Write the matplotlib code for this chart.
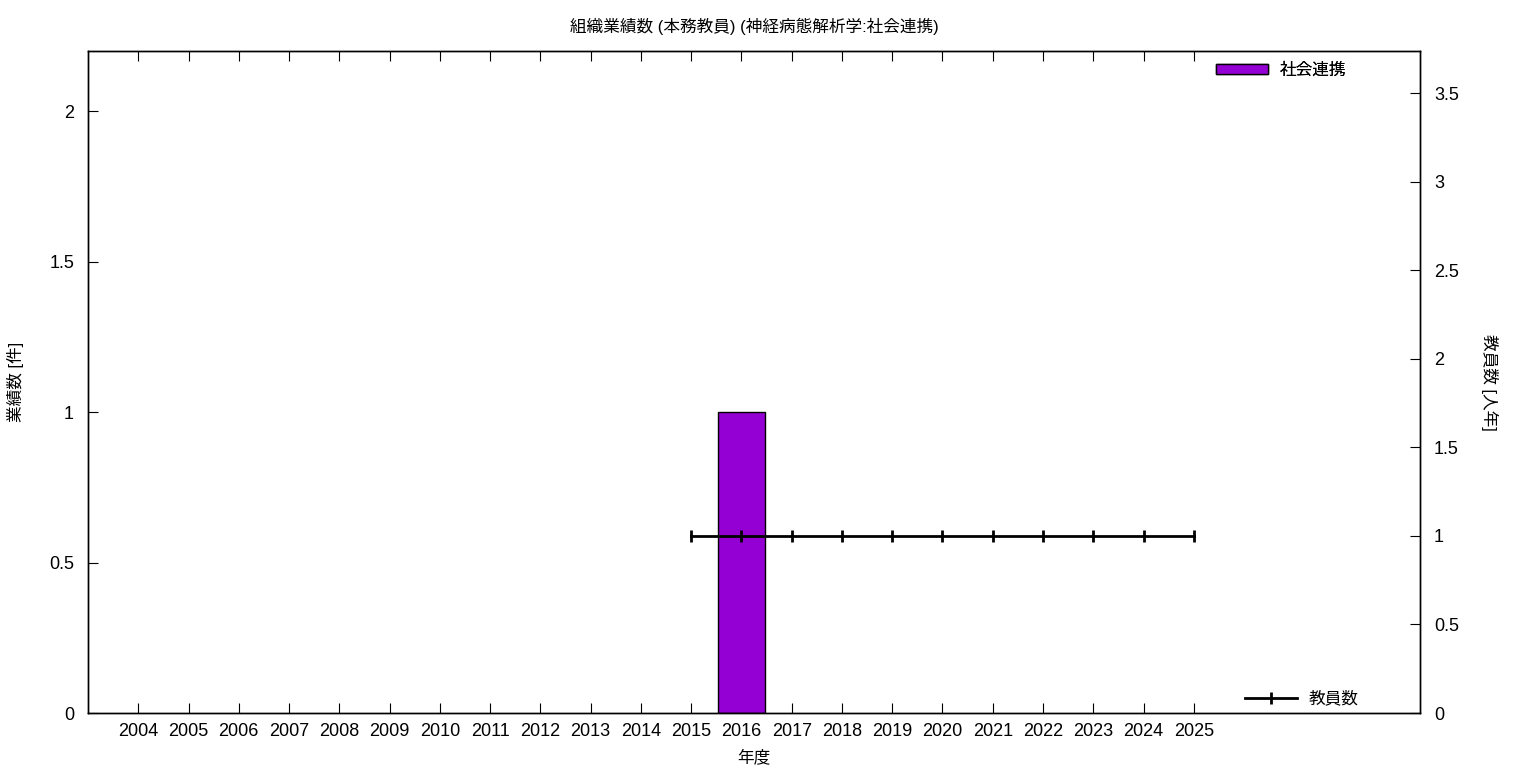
import matplotlib
matplotlib.use("Agg")
import matplotlib.pyplot as plt
from matplotlib.patches import Patch

plt.rcParams['font.family'] = ['Liberation Sans', 'Noto Sans CJK JP', 'DejaVu Sans']

# data
years = list(range(2004, 2026))
works = [0] * 12 + [1] + [0] * 9          # 2004..2025, only 2016 has one
staff_years = list(range(2015, 2026))
staff = [1] * len(staff_years)

fig = plt.figure(figsize=(15.36, 7.68), dpi=100)
ax = fig.add_axes([88 / 1536, 55 / 768, (1420 - 88) / 1536, (713 - 51) / 768])
ax2 = ax.twinx()

bars = ax.bar(years, works, width=0.92, color='#9400D3', edgecolor='black',
              linewidth=1.0, zorder=2)
# empty years get no outline
for b, v in zip(bars, works):
    if v == 0:
        b.set_linewidth(0)
line, = ax2.plot(staff_years, staff, color='black', linewidth=2,
                 marker='|', markersize=9, markeredgewidth=2, label='教員数', zorder=3)

ax.set_xlim(2003, 2029.5)
ax.set_ylim(0, 2.2)
ax2.set_ylim(0, 3.74)

ax.set_xticks(years)
ax.set_xticklabels([str(y) for y in years])
ax.set_yticks([0, 0.5, 1, 1.5, 2])
ax.set_yticklabels(['0', '0.5', '1', '1.5', '2'])
ax2.set_yticks([0, 0.5, 1, 1.5, 2, 2.5, 3, 3.5])
ax2.set_yticklabels(['0', '0.5', '1', '1.5', '2', '2.5', '3', '3.5'])

ax.tick_params(axis='x', direction='in', top=True, bottom=True, length=7,
               labelsize=13, pad=7)
ax.tick_params(axis='y', direction='in', left=True, right=False, length=7,
               labelsize=13, pad=10)
ax2.tick_params(axis='y', direction='in', right=True, left=False, length=7,
                labelsize=13, pad=10)

for a in (ax, ax2):
    for s in a.spines.values():
        s.set_linewidth(1.0)

ax.set_xlabel('年度', fontsize=12, labelpad=7)
ax.set_ylabel('業績数 [件]', fontsize=12, labelpad=18)
ax2.set_ylabel('教員数 [人年]', fontsize=12, rotation=270, labelpad=28)
ax.set_title('組織業績数 (本務教員) (神経病態解析学:社会連携)', fontsize=12, pad=14)

bar_handle = Patch(facecolor='#9400D3', edgecolor='black', linewidth=1.0, label='社会連携')
leg1 = ax.legend(handles=[bar_handle], loc='upper right', frameon=False, fontsize=12,
                 handlelength=3.1, handleheight=0.5, handletextpad=0.7,
                 borderaxespad=0.3, bbox_to_anchor=(0.953, 1.0))
ax.add_artist(leg1)
leg2 = ax2.legend(handles=[line], loc='lower right', frameon=False, fontsize=12,
                  handlelength=3.1, handletextpad=0.7, borderaxespad=0.3,
                  bbox_to_anchor=(0.9625, -0.008))

fig.savefig('out.png', dpi=100)
